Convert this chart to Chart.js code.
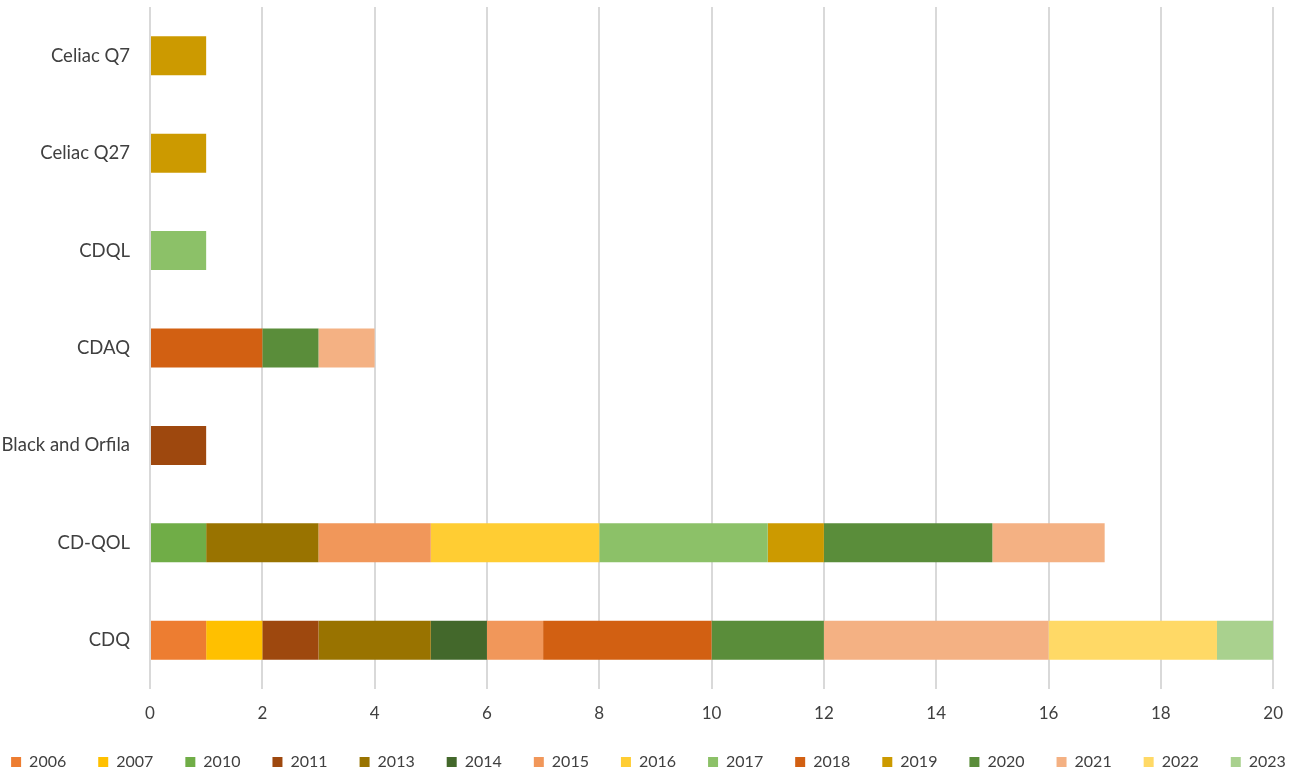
<!DOCTYPE html>
<html>
<head>
<meta charset="utf-8">
<script src="https://cdn.jsdelivr.net/npm/chart.js@4"></script>
<style>
  body { margin: 0; background: #fff; }
  #wrap { width: 1299px; height: 774px; position: relative; }
</style>
</head>
<body>
<div id="wrap"><canvas id="myChart"></canvas></div>
<script>
// categories, top to bottom
var tools = ['Celiac Q7', 'Celiac Q27', 'CDQL', 'CDAQ', 'Black and Orfila', 'CD-QOL', 'CDQ']
var years = ['2006', '2007', '2010', '2011', '2013', '2014', '2015', '2016', '2017', '2018', '2019', '2020', '2021', '2022', '2023']
var xTicks = [0, 2, 4, 6, 8, 10, 12, 14, 16, 18, 20]

// counts per year, same order as tools
var y2006 = [0, 0, 0, 0, 0, 0, 1]
var y2007 = [0, 0, 0, 0, 0, 0, 1]
var y2010 = [0, 0, 0, 0, 0, 1, 0]
var y2011 = [0, 0, 0, 0, 1, 0, 1]
var y2013 = [0, 0, 0, 0, 0, 2, 2]
var y2014 = [0, 0, 0, 0, 0, 0, 1]
var y2015 = [0, 0, 0, 0, 0, 2, 1]
var y2016 = [0, 0, 0, 0, 0, 3, 0]
var y2017 = [0, 0, 1, 0, 0, 3, 0]
var y2018 = [0, 0, 0, 2, 0, 0, 3]
var y2019 = [1, 1, 0, 0, 0, 1, 0]
var y2020 = [0, 0, 0, 1, 0, 3, 2]
var y2021 = [0, 0, 0, 1, 0, 2, 4]
var y2022 = [0, 0, 0, 0, 0, 0, 3]
var y2023 = [0, 0, 0, 0, 0, 0, 1]

var values = [y2006, y2007, y2010, y2011, y2013, y2014, y2015, y2016, y2017, y2018, y2019, y2020, y2021, y2022, y2023]
var colors = ['#ED7D31', '#FFC000', '#70AD47', '#9E480E', '#997300', '#43682B', '#F1975A', '#FFCD33',
              '#8CC168', '#D26012', '#CC9A00', '#5A8D3A', '#F4B183', '#FFD966', '#A9D18E']

var datasets = []
for (var i = 0; i < years.length; i++) {
    datasets.push({
        label: years[i],
        data: values[i].map(function (v) { return v === 0 ? null : v }),
        backgroundColor: colors[i],
        barPercentage: 1,
        categoryPercentage: 0.4
    })
}

// legend padding is wide for item spacing; keep it on one row and fix its height
var trimLegend = {
    id: 'trimLegend',
    beforeLayout: function (chart) {
        var lg = chart.legend
        if (lg && !lg._trimmed) {
            var fit = lg.fit
            lg.fit = function () {
                this.maxWidth = 1400
                fit.call(this)
                this.height = 52
            }
            lg._trimmed = true
        }
    },
    afterLayout: function (chart) {
        var lg = chart.legend
        if (lg) {
            // widen the drawing box so the single row does not wrap
            lg.left = -103
            lg.right = 1400
        }
    }
}

Chart.defaults.font.family = 'Lato, "Open Sans", sans-serif'
Chart.defaults.color = '#404040'

var ctx = document.getElementById('myChart').getContext('2d')
var chart = new Chart(ctx, {
    type: 'bar',
    data: { labels: tools, datasets: datasets },
    plugins: [trimLegend],
    options: {
        indexAxis: 'y',
        responsive: true,
        maintainAspectRatio: false,
        animation: false,
        layout: { padding: { top: 7, right: 18, left: 0, bottom: 0 } },
        plugins: {
            tooltip: { enabled: false },
            legend: {
                position: 'bottom',
                labels: {
                    boxWidth: 10,
                    boxHeight: 10,
                    padding: 32,
                    font: { size: 16 },
                    color: '#404040'
                }
            }
        },
        scales: {
            x: {
                stacked: true,
                min: 0,
                max: 20,
                afterBuildTicks: function (axis) {
                    axis.ticks = xTicks.map(function (v) { return { value: v } })
                },
                afterFit: function (axis) { axis.height = 33 },
                grid: { color: '#d9d9d9', lineWidth: 2, drawTicks: false },
                border: { display: false },
                ticks: { padding: 16, font: { size: 17, lineHeight: 1 } }
            },
            y: {
                stacked: true,
                afterFit: function (axis) {
                    axis.width = 150
                    axis.paddingTop = 0
                    axis.paddingBottom = 0
                },
                grid: { display: false, drawTicks: false },
                border: { display: false },
                ticks: { padding: 20, font: { size: 18.5 } }
            }
        }
    }
})
</script>
</body>
</html>
